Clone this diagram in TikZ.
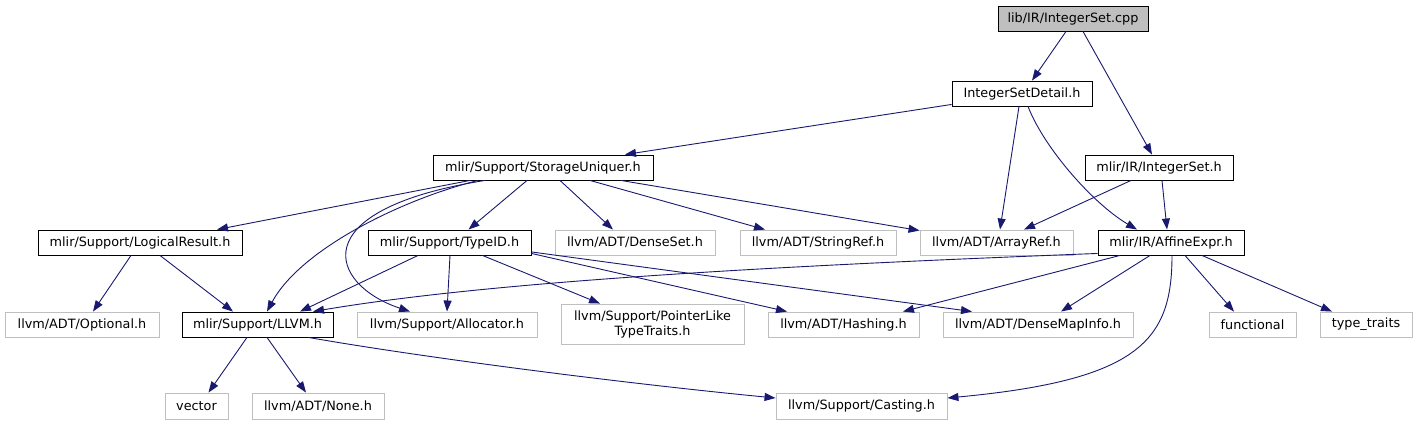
\documentclass[tikz,border=0pt]{standalone}
\usepackage{fontspec}
\setmainfont{DejaVu Sans}
\usetikzlibrary{arrows.meta}
\definecolor{edgec}{HTML}{191970}
\definecolor{grayb}{HTML}{BFBFBF}
\begin{document}
\begin{tikzpicture}[x=1pt,y=-1pt,
  font=\fontsize{12.8}{15}\selectfont,
  box/.style={draw=black, line width=0.9pt, inner sep=0pt, minimum height=25pt, align=center, text=black},
  ext/.style={box, draw=grayb},
  root/.style={box, fill=grayb},
  dep/.style={draw=edgec, line width=0.9pt, -{Triangle[length=11pt,width=8pt]}}]
\fill[white] (0,0) rectangle (1417,425);
\useasboundingbox (0,0) rectangle (1417,425);
% nodes
\node[root, minimum width=150pt] (cpp) at (1073,18.5) {lib/IR/IntegerSet.cpp};
\node[box, minimum width=140pt] (detail) at (1022,93.5) {IntegerSetDetail.h};
\node[box, minimum width=148pt] (iset) at (1159,167.5) {mlir/IR/IntegerSet.h};
\node[box, minimum width=220pt] (su) at (543,167.5) {mlir/Support/StorageUniquer.h};
\node[box, minimum width=204pt] (lr) at (140,242.5) {mlir/Support/LogicalResult.h};
\node[box, minimum width=163pt] (tid) at (449.5,242.5) {mlir/Support/TypeID.h};
\node[ext, minimum width=160pt] (dset) at (635,242.5) {llvm/ADT/DenseSet.h};
\node[ext, minimum width=156pt] (sref) at (818,242.5) {llvm/ADT/StringRef.h};
\node[ext, minimum width=153pt] (aref) at (996.5,242.5) {llvm/ADT/ArrayRef.h};
\node[box, minimum width=146pt] (aexpr) at (1171,242.5) {mlir/IR/AffineExpr.h};
\node[ext, minimum width=154pt] (opt) at (82,324.5) {llvm/ADT/Optional.h};
\node[box, minimum width=151pt] (llvm) at (257.5,324.5) {mlir/Support/LLVM.h};
\node[ext, minimum width=180pt] (alloc) at (447,324.5) {llvm/Support/Allocator.h};
\node[ext, minimum width=183pt, minimum height=40pt] (plt) at (652.5,324) {llvm/Support/PointerLike\\TypeTraits.h};
\node[ext, minimum width=151pt] (hash) at (843.5,324.5) {llvm/ADT/Hashing.h};
\node[ext, minimum width=190pt] (dmi) at (1038,324.5) {llvm/ADT/DenseMapInfo.h};
\node[ext, minimum width=87pt] (func) at (1252.5,324.5) {functional};
\node[ext, minimum width=92pt] (tt) at (1366,324.5) {type\_traits};
\node[ext, minimum width=63pt, minimum height=26pt] (vector) at (196.5,406) {vector};
\node[ext, minimum width=132pt, minimum height=26pt] (none) at (318,406) {llvm/ADT/None.h};
\node[ext, minimum width=171pt, minimum height=26pt] (cast) at (861.5,406) {llvm/Support/Casting.h};
% edges
\draw[dep] ([xshift=-7pt]cpp.south) -- ([xshift=10pt]detail.north);
\draw[dep] ([xshift=10pt]cpp.south) -- ([xshift=-7pt]iset.north);
\draw[dep] ([yshift=2pt]detail.south west) -- ([xshift=82pt]su.north);
\draw[dep] ([xshift=-3pt]detail.south) -- ([xshift=3.5pt]aref.north);
\draw[dep] ([xshift=6pt]detail.south) .. controls (1045,150) and (1095,205) .. ([xshift=-34pt]aexpr.north);
\draw[dep] ([xshift=-28pt]iset.south) -- ([xshift=27.5pt]aref.north);
\draw[dep] ([xshift=3pt]iset.south) -- ([xshift=-4pt]aexpr.north);
\draw[dep] ([xshift=-73pt]su.south) -- ([xshift=77pt]lr.north);
\draw[dep] ([xshift=-65pt]su.south) .. controls (400,200) and (300,250) .. ([xshift=9.5pt]llvm.north);
\draw[dep] ([xshift=-58pt]su.south) .. controls (300,210) and (330,285) .. ([xshift=-37pt]alloc.north);
\draw[dep] ([xshift=-16pt]su.south) -- ([xshift=19pt]tid.north);
\draw[dep] ([xshift=17pt]su.south) -- ([xshift=-22pt]dset.north);
\draw[dep] ([xshift=47pt]su.south) -- ([xshift=-53pt]sref.north);
\draw[dep] ([xshift=78pt]su.south) -- ([yshift=-1pt]aref.north west);
\draw[dep] ([xshift=-9pt]lr.south) -- ([xshift=11pt]opt.north);
\draw[dep] ([xshift=20pt]lr.south) -- ([xshift=-24.5pt]llvm.north);
\draw[dep] ([xshift=-31.5pt]tid.south) -- ([xshift=42.5pt]llvm.north);
\draw[dep] ([xshift=0.5pt]tid.south) -- (alloc.north);
\draw[dep] ([xshift=33pt]tid.south) -- ([xshift=-52.5pt]plt.north);
\draw[dep] ([yshift=2pt]tid.south east) -- ([xshift=-56.5pt]hash.north);
\draw[dep] ([yshift=3.5pt]tid.south east) -- ([xshift=-66pt]dmi.north);
\draw[dep] ([yshift=2pt]aexpr.south west) .. controls (800,265) and (500,280) .. ([xshift=55.5pt]llvm.north);
\draw[dep] ([xshift=-51pt]aexpr.south) -- ([xshift=59.5pt]hash.north);
\draw[dep] ([xshift=-21pt]aexpr.south) -- ([xshift=23pt]dmi.north);
\draw[dep] ([xshift=1pt]aexpr.south) .. controls (1172,340) and (1140,380) .. ([yshift=8pt]cast.east);
\draw[dep] ([xshift=14pt]aexpr.south) -- ([xshift=-18.5pt]func.north);
\draw[dep] ([xshift=31pt]aexpr.south) -- ([xshift=-34pt]tt.north);
\draw[dep] ([xshift=-10.5pt]llvm.south) -- ([xshift=12pt]vector.north);
\draw[dep] ([xshift=9.5pt]llvm.south) -- ([xshift=-12pt]none.north);
\draw[dep] ([xshift=51pt]llvm.south) .. controls (420,357) and (620,383) .. ([yshift=8pt]cast.west);
\end{tikzpicture}
\end{document}
